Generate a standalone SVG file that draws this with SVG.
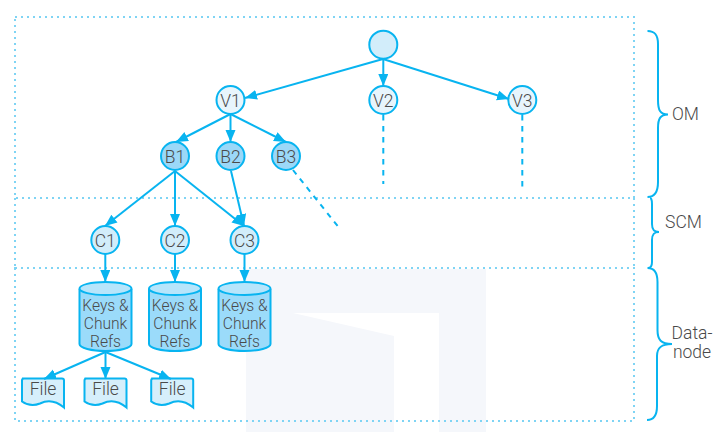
<svg xmlns="http://www.w3.org/2000/svg" width="724" height="432" viewBox="0 0 724 432">
<style>
text{font-family:"Roboto","Liberation Sans",Arial,sans-serif;font-weight:300;font-size:17.5px;fill:#4a4a4a;text-anchor:middle}
text.s{font-size:15.6px}
.c{stroke:#08b4f0;stroke-width:2;fill:none}
.a{marker-end:url(#ah)}
.d{stroke-dasharray:5.5 5.5}
.box{fill:none;stroke:#7fd4f4;stroke-width:2;stroke-dasharray:2 4}
.v{fill:#e8f5fc;stroke:#08b4f0;stroke-width:2}
.b{fill:#9bd8f8;stroke:#08b4f0;stroke-width:2}
.k{fill:#d2edfa;stroke:#08b4f0;stroke-width:2}
.cyl{fill:#9bdbfa;stroke:#08b4f0;stroke-width:2}
.cap{fill:#b7e5fb;stroke:#08b4f0;stroke-width:2}
.f{fill:#d6effb;stroke:#08b4f0;stroke-width:2}
</style>
<defs>
<marker id="ah" markerUnits="userSpaceOnUse" markerWidth="13" markerHeight="12" refX="12" refY="5" orient="auto"><path d="M0 0L12 5L0 10z" fill="#08b4f0"/></marker>
<path id="cy" d="M-26 -26V29C-26 33 -14 36 0 36S26 33 26 29V-26"/>
<path id="doc" d="M-21 -13.500H19Q21 -13.500 21 -11.500V15.500C12 8 4 8 -3 11.500C-9 14 -16 13 -21 9.500V-11.500Q-21 -13.500 -19 -13.500Z"/>
</defs>
<g id="watermark">
<path fill="#f5f7fb" d="M246 269H486V432H439V313H293L394 336V432H246Z"/>
</g>
<g id="regions">
<rect class="box" x="15" y="17" width="619" height="181"/>
<path class="box" d="M15 198V268M634 198V268"/>
<rect class="box" x="15" y="268" width="619" height="153"/>
</g>
<g id="root"><circle class="k" cx="383.300" cy="44.700" r="14"/></g>
<g id="V1"><circle class="v" cx="230.500" cy="100" r="14"/><text x="230.500" y="106.500">V1</text></g>
<g id="V2"><circle class="v" cx="383.300" cy="100" r="14"/><text x="383.300" y="106.500">V2</text></g>
<g id="V3"><circle class="v" cx="522.300" cy="100" r="14"/><text x="522.300" y="106.500">V3</text></g>
<g id="B1"><circle class="b" cx="175" cy="156" r="14"/><text x="175" y="162.500">B1</text></g>
<g id="B2"><circle class="b" cx="230.500" cy="156" r="14"/><text x="230.500" y="162.500">B2</text></g>
<g id="B3"><circle class="b" cx="286" cy="156" r="14"/><text x="286" y="162.500">B3</text></g>
<g id="C1"><circle class="k" cx="105.300" cy="240" r="14"/><text x="105.300" y="246.500">C1</text></g>
<g id="C2"><circle class="k" cx="175" cy="240" r="14"/><text x="175" y="246.500">C2</text></g>
<g id="C3"><circle class="k" cx="244.500" cy="240" r="14"/><text x="244.500" y="246.500">C3</text></g>
<g id="store1" transform="translate(105.500 315)"><use href="#cy" class="cyl"/><ellipse class="cap" cx="0" cy="-26.500" rx="26" ry="6.500"/><text class="s" y="-4.500"><tspan x="0">Keys &amp;</tspan><tspan x="0" dy="18.300">Chunk</tspan><tspan x="0" dy="18.300">Refs</tspan></text></g>
<g id="store2" transform="translate(175 315)"><use href="#cy" class="cyl"/><ellipse class="cap" cx="0" cy="-26.500" rx="26" ry="6.500"/><text class="s" y="-4.500"><tspan x="0">Keys &amp;</tspan><tspan x="0" dy="18.300">Chunk</tspan><tspan x="0" dy="18.300">Refs</tspan></text></g>
<g id="store3" transform="translate(244.500 315)"><use href="#cy" class="cyl"/><ellipse class="cap" cx="0" cy="-26.500" rx="26" ry="6.500"/><text class="s" y="-4.500"><tspan x="0">Keys &amp;</tspan><tspan x="0" dy="18.300">Chunk</tspan><tspan x="0" dy="18.300">Refs</tspan></text></g>
<g id="file1" transform="translate(43 392)"><use href="#doc" class="f"/><text y="3">File</text></g>
<g id="file2" transform="translate(105.500 392)"><use href="#doc" class="f"/><text y="3">File</text></g>
<g id="file3" transform="translate(172.200 392)"><use href="#doc" class="f"/><text y="3">File</text></g>
<g id="connectors">
<path class="c a" d="M383 59L245 98"/>
<path class="c a" d="M383.300 59V86"/>
<path class="c a" d="M383 59L509 99"/>
<path class="c a" d="M230.500 114L176 142"/>
<path class="c a" d="M230.500 114V142"/>
<path class="c a" d="M230.500 114L286 142"/>
<path class="c a" d="M175 171L105 226"/>
<path class="c a" d="M175 171V226"/>
<path class="c a" d="M175 171L244 226"/>
<path class="c a" d="M231 171L244 226"/>
<path class="c a" d="M105.300 254V282"/>
<path class="c a" d="M175 254V282"/>
<path class="c a" d="M244.500 254V282"/>
<path class="c a" d="M105.500 352L44 379"/>
<path class="c a" d="M105.500 352V379"/>
<path class="c a" d="M105.500 352L171 379"/>
<path class="c d" d="M293 170L340 229"/>
<path class="c d" d="M383.300 115V184"/>
<path class="c d" d="M522.300 115V191"/>
</g>
<g id="braces">
<path class="c" d="M647.500 31C655 31 658 35 658 44V100C658 110 660 114.500 668 114.500C660 114.500 658 119 658 128V182C658 192 655 197 647.500 197"/>
<path class="c" d="M650 198C651 198 652 200 652 204V224C652 230 654 232 659 232C654 232 652 234 652 240V262C652 266 651 268 648 268"/>
<path class="c" d="M647.500 268C654 268 657.500 273 657.500 282V330C657.500 340 661 344 672 344C661 344 657 348 657 356V406C657 415 654 420 647 420"/>
</g>
<g id="labels">
<text x="685.500" y="120">OM</text>
<text x="683.500" y="228">SCM</text>
<text x="692" y="339"><tspan x="692">Data-</tspan><tspan x="692" dy="19">node</tspan></text>
</g>
</svg>
